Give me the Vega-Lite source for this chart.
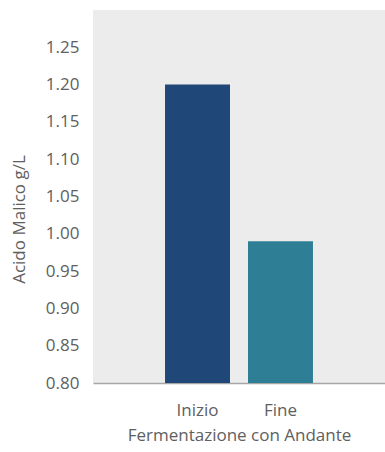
{
  "$schema": "https://vega.github.io/schema/vega-lite/v6.json",
  "autosize": "none",
  "width": 292,
  "height": 373,
  "padding": {"left": 93, "top": 10, "right": 0, "bottom": 69},
  "background": "white",
  "config": {
    "view": {"fill": "#ececec", "stroke": null},
    "font": "Open Sans",
    "axis": {
      "labelFont": "Open Sans",
      "titleFont": "Open Sans",
      "labelFontSize": 17,
      "titleFontSize": 17,
      "labelColor": "#606060",
      "titleColor": "#606060",
      "titleFontWeight": "normal",
      "grid": false,
      "ticks": false
    }
  },
  "data": {
    "values": [
      {"fase": "Inizio", "valore": 1.20},
      {"fase": "Fine", "valore": 0.99}
    ]
  },
  "mark": {"type": "bar", "clip": true},
  "encoding": {
    "x": {
      "field": "fase",
      "type": "nominal",
      "sort": ["Inizio", "Fine"],
      "scale": {"paddingInner": 0.217, "paddingOuter": 0.868},
      "axis": {
        "title": "Fermentazione con Andante",
        "labelAngle": 0,
        "labelPadding": 19,
        "titlePadding": 9,
        "domain": true,
        "domainColor": "#a6a6a6",
        "domainWidth": 1.5
      }
    },
    "y": {
      "field": "valore",
      "type": "quantitative",
      "scale": {"domain": [0.8, 1.3], "nice": false, "zero": false},
      "axis": {
        "title": "Acido Malico g/L",
        "values": [0.8, 0.85, 0.9, 0.95, 1.0, 1.05, 1.1, 1.15, 1.2, 1.25],
        "format": ".2f",
        "domain": false,
        "labelPadding": 14,
        "titlePadding": 17,
        "titleY": 209
      }
    },
    "color": {
      "field": "fase",
      "type": "nominal",
      "scale": {"domain": ["Inizio", "Fine"], "range": ["#1f4777", "#2e7f96"]},
      "legend": null
    }
  }
}
